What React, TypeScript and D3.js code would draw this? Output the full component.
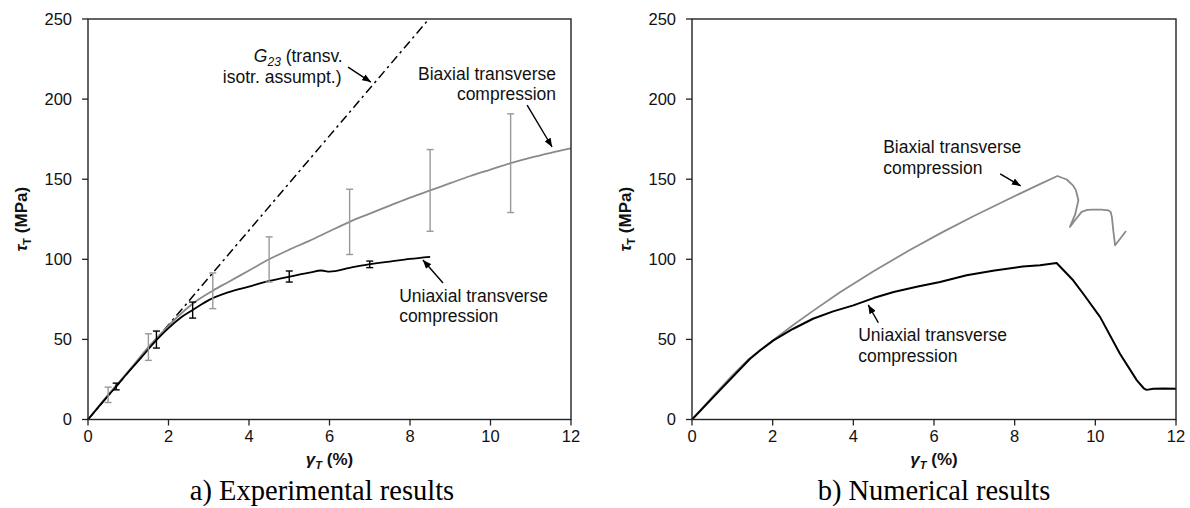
import React from "react";
import * as d3 from "d3";

// ---------- data ----------
const xTicks = [0, 2, 4, 6, 8, 10, 12];
const yTicks = [0, 50, 100, 150, 200, 250];

// (a) experimental
const expUniX = [0, 0.3, 0.7, 1.0, 1.3, 1.7, 2.0, 2.3, 2.6, 3.0, 3.5, 4.0, 4.5, 5.0, 5.5, 5.8, 6.0, 6.5, 7.0, 7.5, 8.0, 8.5];
const expUniY = [0, 9, 20.6, 29.5, 38, 49.5, 57, 63.5, 68.3, 74.5, 79.5, 83, 86.5, 89.2, 91.7, 93, 92.3, 94.6, 97, 98.6, 100.2, 101.5];
const expBiX = [0, 0.5, 1.0, 1.5, 2.0, 2.2, 2.6, 3.1, 3.5, 4.0, 4.5, 5.0, 5.5, 6.0, 6.5, 7.0, 7.5, 8.0, 8.5, 9.0, 9.5, 10.0, 10.5, 11.0, 11.5, 12];
const expBiY = [0, 15.4, 30, 45.2, 58.5, 63.5, 72.3, 80.4, 86, 93, 100, 106, 111.5, 117.5, 123.4, 128.5, 133.5, 138.5, 143, 147.5, 152, 156, 160, 163.5, 166.5, 169.2];
const g23X = [0, 8.47];
const g23Y = [0, 250];

const uniErrX = [0.7, 1.7, 2.6, 5.0, 7.0];
const uniErrLo = [18.5, 44.6, 63.3, 85.8, 94.8];
const uniErrHi = [22.7, 55.2, 73.3, 92.7, 98.9];
const biErrX = [0.5, 1.5, 3.1, 4.5, 6.5, 8.5, 10.5];
const biErrLo = [10.6, 36.9, 69.2, 85.8, 103, 117.5, 129.2];
const biErrHi = [20.2, 53.5, 91.5, 114, 143.75, 168.5, 190.8];

// (b) numerical
const numBiX = [0, 0.5, 1.0, 1.4, 1.8, 2.5, 3.0, 3.67, 4.5, 5.4, 6.2, 7.0, 7.7, 8.13, 8.6, 9.06, 9.29, 9.45, 9.52, 9.58, 9.5, 9.37, 9.5, 9.66, 9.8, 9.95, 10.15, 10.32, 10.38, 10.41, 10.45, 10.49, 10.62, 10.76];
const numBiY = [0, 14, 27.5, 37.5, 45.5, 58.8, 67.8, 79.4, 92.6, 105.8, 116.8, 127.2, 135.8, 141, 146.6, 152, 149.8, 146, 143, 136.9, 128, 120.2, 124.5, 129.6, 130.8, 131, 131, 130.6, 129.5, 126.5, 117, 108.75, 113, 117.7];
const numUniX = [0, 0.7, 1.44, 1.7, 2.02, 2.5, 3.0, 3.5, 4.0, 4.5, 5.0, 5.6, 6.15, 6.81, 7.5, 8.2, 8.63, 9.04, 9.2, 9.45, 9.7, 10.12, 10.61, 11.03, 11.2, 11.27, 11.44, 11.7, 12];
const numUniY = [0, 18.5, 37.9, 43.4, 49.4, 56.5, 62.9, 67.5, 71.25, 75.8, 79.6, 83, 85.8, 90, 93, 95.5, 96.25, 97.7, 93.5, 86.9, 78.5, 63.9, 41, 24.4, 19.5, 18.5, 19.2, 19.3, 19.2];

// ---------- style ----------
const SANS = "'Liberation Sans', Arial, Helvetica, sans-serif";
const SERIF = "'Liberation Serif', 'Times New Roman', serif";
const GRAY = "#8a8a8a";
const GRAY_ERR = "#999999";

type Pt = [number, number];
const zip = (xs: number[], ys: number[]): Pt[] => xs.map((x, i) => [x, ys[i]]);

type Ann = { lines: string[]; x: number; y: number[]; anchor: "start" | "end"; arrow: [Pt, Pt] };

const TOP = 19;
const BOTTOM = 419.5;

function Panel({ left, right, caption, captionX, children }: { left: number; right: number; caption: string; captionX: number; children: (x: d3.ScaleLinear<number, number>, y: d3.ScaleLinear<number, number>) => React.ReactNode }) {
  const x = d3.scaleLinear().domain([0, 12]).range([left, right]);
  const y = d3.scaleLinear().domain([0, 250]).range([BOTTOM, TOP]);
  const cx = (left + right) / 2;
  return (
    <g>
      {children(x, y)}
      <rect x={left} y={TOP} width={right - left} height={BOTTOM - TOP} fill="none" stroke="#222" strokeWidth={1.4} />
      {yTicks.map((t) => (
        <g key={"y" + t}>
          <line x1={left - 6} x2={left} y1={y(t)} y2={y(t)} stroke="#222" strokeWidth={1.3} />
          <text x={left - 16} y={y(t)} dy="0.36em" textAnchor="end" fontFamily={SANS} fontSize={16.5} fill="#111">{t}</text>
        </g>
      ))}
      {xTicks.map((t) => (
        <g key={"x" + t}>
          <line x1={x(t)} x2={x(t)} y1={BOTTOM} y2={BOTTOM + 6} stroke="#222" strokeWidth={1.3} />
          <text x={x(t)} y={BOTTOM + 22} textAnchor="middle" fontFamily={SANS} fontSize={16.5} fill="#111">{t}</text>
        </g>
      ))}
      <text transform={`translate(${left - 61},${(TOP + BOTTOM) / 2}) rotate(-90)`} textAnchor="middle" fontFamily={SANS} fontWeight="bold" fontSize={17} fill="#111">
        <tspan fontStyle="italic">τ</tspan>
        <tspan fontSize={11} dy={4}>T</tspan>
        <tspan dy={-4}> (MPa)</tspan>
      </text>
      <text x={cx} y={BOTTOM + 45} textAnchor="middle" fontFamily={SANS} fontWeight="bold" fontSize={17} fill="#111">
        <tspan fontStyle="italic">γ</tspan>
        <tspan fontStyle="italic" fontSize={11} dy={4}>T</tspan>
        <tspan dy={-4}> (%)</tspan>
      </text>
      <text x={captionX} y={500} textAnchor="middle" fontFamily={SERIF} fontSize={28.5} fill="#000">{caption}</text>
    </g>
  );
}

function Annotation({ a, x, y }: { a: Ann; x: d3.ScaleLinear<number, number>; y: d3.ScaleLinear<number, number> }) {
  return (
    <g>
      {a.lines.map((l, i) => (
        <text key={i} x={x(a.x)} y={y(a.y[i])} textAnchor={a.anchor} fontFamily={SANS} fontSize={17.5} fill="#111">{l}</text>
      ))}
      <line x1={x(a.arrow[0][0])} y1={y(a.arrow[0][1])} x2={x(a.arrow[1][0])} y2={y(a.arrow[1][1])} stroke="#000" strokeWidth={1.4} markerEnd="url(#arr)" />
    </g>
  );
}

function ErrBars({ xs, lo, hi, color, x, y }: { xs: number[]; lo: number[]; hi: number[]; color: string; x: d3.ScaleLinear<number, number>; y: d3.ScaleLinear<number, number> }) {
  return (
    <g stroke={color} strokeWidth={1.4}>
      {xs.map((v, i) => (
        <g key={i}>
          <line x1={x(v)} x2={x(v)} y1={y(lo[i])} y2={y(hi[i])} />
          <line x1={x(v) - 3.5} x2={x(v) + 3.5} y1={y(lo[i])} y2={y(lo[i])} />
          <line x1={x(v) - 3.5} x2={x(v) + 3.5} y1={y(hi[i])} y2={y(hi[i])} />
        </g>
      ))}
    </g>
  );
}

const annLeft: Ann[] = [
  { lines: [], x: 0, y: [], anchor: "start", arrow: [[6.46, 220.0], [7.03, 210.6]] },
  { lines: ["Biaxial transverse", "compression"], x: 11.63, y: [211.9, 199.4], anchor: "end", arrow: [[10.91, 196.3], [11.53, 170.1]] },
  { lines: ["Uniaxial transverse", "compression"], x: 7.73, y: [73.3, 60.9], anchor: "start", arrow: [[8.82, 85.2], [8.32, 99.6]] },
];
const annRight: Ann[] = [
  { lines: ["Biaxial transverse", "compression"], x: 4.74, y: [166.4, 153.3], anchor: "start", arrow: [[7.64, 153.3], [8.15, 145.8]] },
  { lines: ["Uniaxial transverse", "compression"], x: 4.12, y: [49.0, 35.9], anchor: "start", arrow: [[4.62, 60.4], [4.37, 71.5]] },
];

export default function App() {
  return (
    <svg width={1190} height={508} style={{ position: "absolute", left: 0, top: 0, background: "#fff" }}>
      <defs>
        <marker id="arr" viewBox="0 0 10 8" refX="10" refY="4" markerWidth="9" markerHeight="7" markerUnits="userSpaceOnUse" orient="auto">
          <path d="M0,0 L10,4 L0,8 z" fill="#000" />
        </marker>
      </defs>
      <rect width={1190} height={508} fill="#fff" />
      <Panel left={88} right={571} caption="a) Experimental results" captionX={322}>
        {(x, y) => {
          const line = d3.line<Pt>().x((d) => x(d[0])).y((d) => y(d[1])).curve(d3.curveMonotoneX);
          const straight = d3.line<Pt>().x((d) => x(d[0])).y((d) => y(d[1]));
          return (
            <g>
              <path d={straight(zip(g23X, g23Y)) || ""} fill="none" stroke="#000" strokeWidth={1.5} strokeDasharray="9,4,2.5,4" />
              <path d={line(zip(expBiX, expBiY)) || ""} fill="none" stroke={GRAY} strokeWidth={1.8} />
              <path d={line(zip(expUniX, expUniY)) || ""} fill="none" stroke="#000" strokeWidth={1.8} />
              <ErrBars xs={biErrX} lo={biErrLo} hi={biErrHi} color={GRAY_ERR} x={x} y={y} />
              <ErrBars xs={uniErrX} lo={uniErrLo} hi={uniErrHi} color="#000" x={x} y={y} />
              <text x={x(4.12)} y={y(223.2)} fontFamily={SANS} fontSize={17.5} fill="#111">
                <tspan fontStyle="italic">G</tspan>
                <tspan fontStyle="italic" fontSize={12} dy={4}>23</tspan>
                <tspan dy={-4}> (transv.</tspan>
              </text>
              <text x={x(3.35)} y={y(210.1)} fontFamily={SANS} fontSize={17.5} fill="#111">isotr. assumpt.)</text>
              {annLeft.map((a, i) => <Annotation key={i} a={a} x={x} y={y} />)}
            </g>
          );
        }}
      </Panel>
      <Panel left={692} right={1176} caption="b) Numerical results" captionX={934}>
        {(x, y) => {
          const line = d3.line<Pt>().x((d) => x(d[0])).y((d) => y(d[1]));
          return (
            <g>
              <path d={line(zip(numBiX, numBiY)) || ""} fill="none" stroke={GRAY} strokeWidth={1.8} strokeLinejoin="round" />
              <path d={line(zip(numUniX, numUniY)) || ""} fill="none" stroke="#000" strokeWidth={2} strokeLinejoin="round" />
              {annRight.map((a, i) => <Annotation key={i} a={a} x={x} y={y} />)}
            </g>
          );
        }}
      </Panel>
    </svg>
  );
}
